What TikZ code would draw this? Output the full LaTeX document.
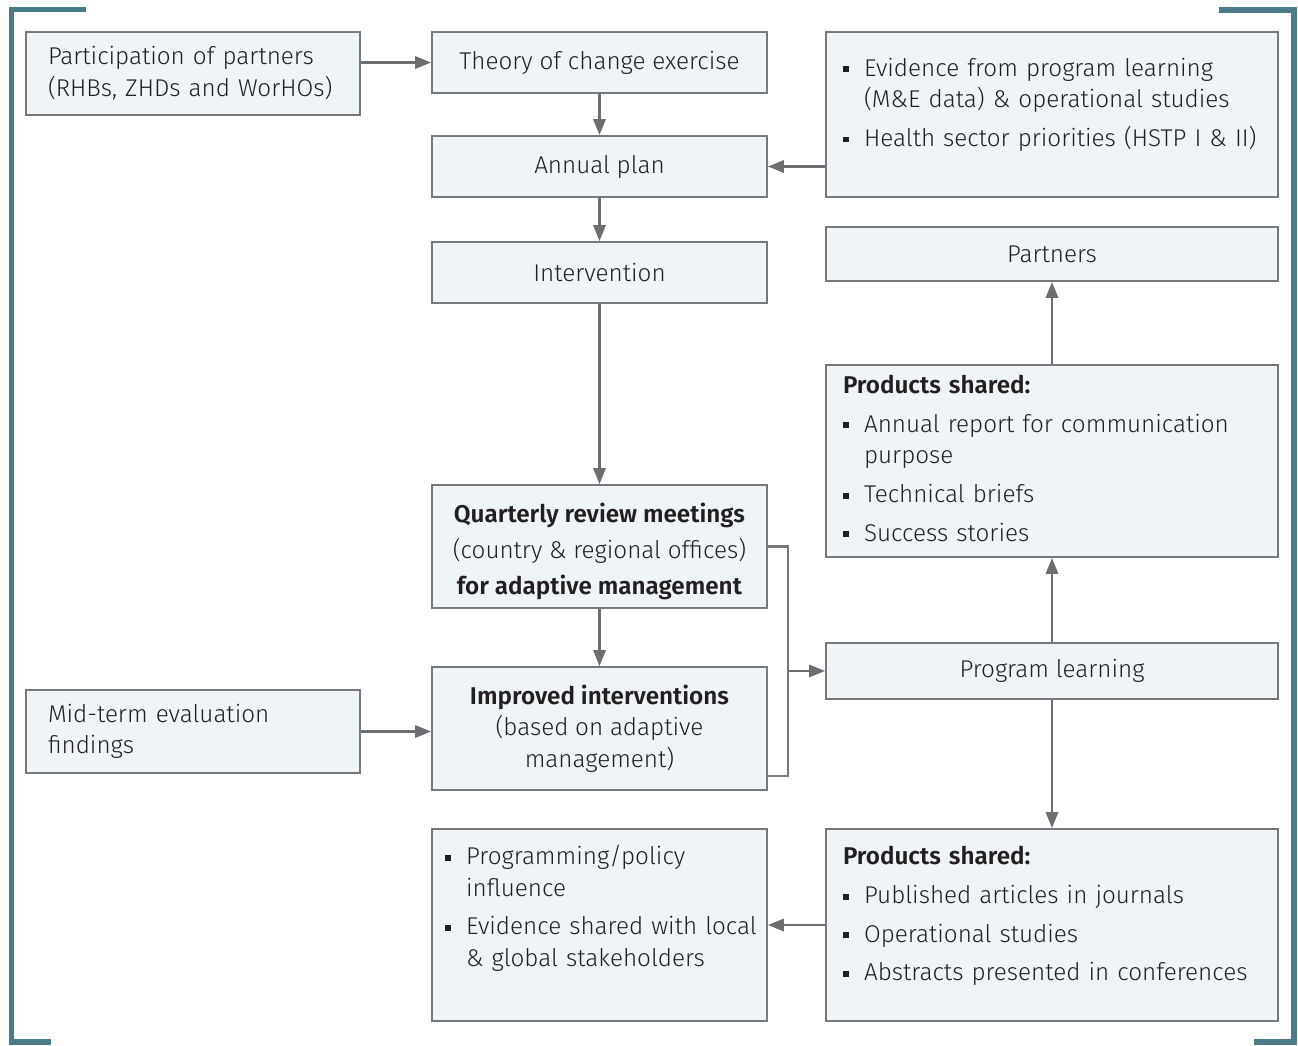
\documentclass[tikz,border=0pt]{standalone}
\usepackage{fontspec}
\setmainfont{Fira Sans Light}[BoldFont={Fira Sans SemiBold}]
\usepackage{tikz}
\usetikzlibrary{arrows.meta,calc,positioning}
\definecolor{boxfill}{HTML}{EEF4F7}
\definecolor{boxline}{HTML}{77787B}
\definecolor{arrowgray}{HTML}{6D6E71}
\definecolor{frameteal}{HTML}{4A7B86}
\definecolor{textdark}{HTML}{231F20}
\newcommand{\pxu}{0.02cm}
\newcommand{\bul}{\rule[0.3ex]{3.4pt}{3.4pt}}
\tikzstyle{box}=[draw=boxline, fill=boxfill, line width=1.1pt, rectangle, text=textdark, inner ysep=0pt, font=\fontsize{13.8pt}{18pt}\selectfont]
\tikzstyle{narrowbox}=[box, minimum width=335*\pxu, inner xsep=13*\pxu]
\tikzstyle{widebox}=[box, minimum width=452*\pxu, inner xsep=17*\pxu]
\tikzstyle{sidebox}=[box, minimum width=334*\pxu, minimum height=83*\pxu, inner xsep=22*\pxu, text width=290*\pxu, align=left]
\tikzstyle{conn}=[draw=arrowgray, line width=1.2pt, -{Triangle[length=9pt,width=7pt]}]

\begin{document}
\begin{tikzpicture}[x=\pxu, y=-\pxu]
    \useasboundingbox (0,0) rectangle (1298,1045);
    % Frame brackets on both sides
    \draw[frameteal, line width=3.4pt] (86,9.5) -- (11.5,9.5) -- (11.5,1042) -- (51,1042);
    \draw[frameteal, line width=3.4pt] (1219,10) -- (1294,10) -- (1294,1042) -- (1254,1042);

    % Left column
    \node[sidebox] (part) at (193,73.5) {Participation of partners\\(RHBs, ZHDs and WorHOs)};
    \node[sidebox] (mid) at (193,731.5) {Mid-term evaluation\\findings};

    % Middle column
    \node[narrowbox, minimum height=61*\pxu] (toc) at (599.5,62.5) {Theory of change exercise};
    \node[narrowbox, minimum height=61*\pxu] (annual) at (599.5,166.5) {Annual plan};
    \node[narrowbox, minimum height=61*\pxu] (interv) at (599.5,272.5) {Intervention};
    \node[narrowbox, minimum height=123*\pxu, align=center] (qrm) at (599.5,546.5)
      {\textbf{Quarterly review meetings}\\[2.5pt](country \& regional offices)\\[2.5pt]\textbf{for adaptive management}\par\vspace*{-6pt}};
    \node[narrowbox, minimum height=123*\pxu, align=center] (impr) at (599.5,728.5)
      {\textbf{Improved interventions}\\(based on adaptive\\management)};
    \node[narrowbox, minimum height=192*\pxu, text width=309*\pxu, align=left] (prog) at (599.5,925)
      {\begin{tabular}{@{}l@{}l@{}}
        \makebox[12pt][l]{\bul} & Programming/policy\\
         & influence\\[4pt]
        \makebox[12pt][l]{\bul} & Evidence shared with local\\
         & \& global stakeholders
      \end{tabular}\par\vspace*{18pt}};

    % Right column
    \node[widebox, minimum height=165*\pxu, text width=418*\pxu, align=left] (ev) at (1052,114.5)
      {\begin{tabular}{@{}l@{}l@{}}
        \makebox[12pt][l]{\bul} & Evidence from program learning\\
         & (M\&E data) \& operational studies\\[4pt]
        \makebox[12pt][l]{\bul} & Health sector priorities (HSTP I \& II)
      \end{tabular}\par\vspace*{11pt}};
    \node[widebox, minimum height=54*\pxu] (partners) at (1052,254) {Partners};
    \node[widebox, minimum height=192*\pxu, text width=418*\pxu, align=left] (prod1) at (1052,461)
      {\begin{tabular}{@{}l@{}l@{}}
        \multicolumn{2}{@{}l@{}}{\textbf{Products shared:}}\\[4pt]
        \makebox[12pt][l]{\bul} & Annual report for communication\\
         & purpose\\[4pt]
        \makebox[12pt][l]{\bul} & Technical briefs\\[4pt]
        \makebox[12pt][l]{\bul} & Success stories
      \end{tabular}};
    \node[widebox, minimum height=56*\pxu] (pl) at (1052,671) {Program learning};
    \node[widebox, minimum height=192*\pxu, text width=418*\pxu, align=left] (prod2) at (1052,925)
      {\begin{tabular}{@{}l@{}l@{}}
        \multicolumn{2}{@{}l@{}}{\textbf{Products shared:}}\\[4pt]
        \makebox[12pt][l]{\bul} & Published articles in journals\\[4pt]
        \makebox[12pt][l]{\bul} & Operational studies\\[4pt]
        \makebox[12pt][l]{\bul} & Abstracts presented in conferences
      \end{tabular}\par\vspace*{9.6pt}};

    % Connect the boxes
    \path (part.east |- toc.west) edge[conn] (toc.west);
    \path (toc) edge[conn] (annual);
    \path (ev.west |- annual.east) edge[conn] (annual.east);
    \path (annual) edge[conn] (interv);
    \path (interv) edge[conn] (qrm);
    \path (qrm) edge[conn] (impr);
    \path (mid.east) edge[conn] (mid.east -| impr.west);

    % Bracket from meetings and improved interventions to learning
    \draw[draw=boxline, line width=1.2pt] (qrm.east) -- ++(20,0) coordinate (brk) |- ($(impr.south east)+(0,-15)$);
    \path (brk |- pl.west) edge[conn] (pl.west);

    \path (pl) edge[conn] (prod1);
    \path (prod1) edge[conn] (partners);
    \path (pl) edge[conn] (prod2);
    \path (prod2.west |- prog.east) edge[conn] (prog.east);
\end{tikzpicture}
\end{document}
